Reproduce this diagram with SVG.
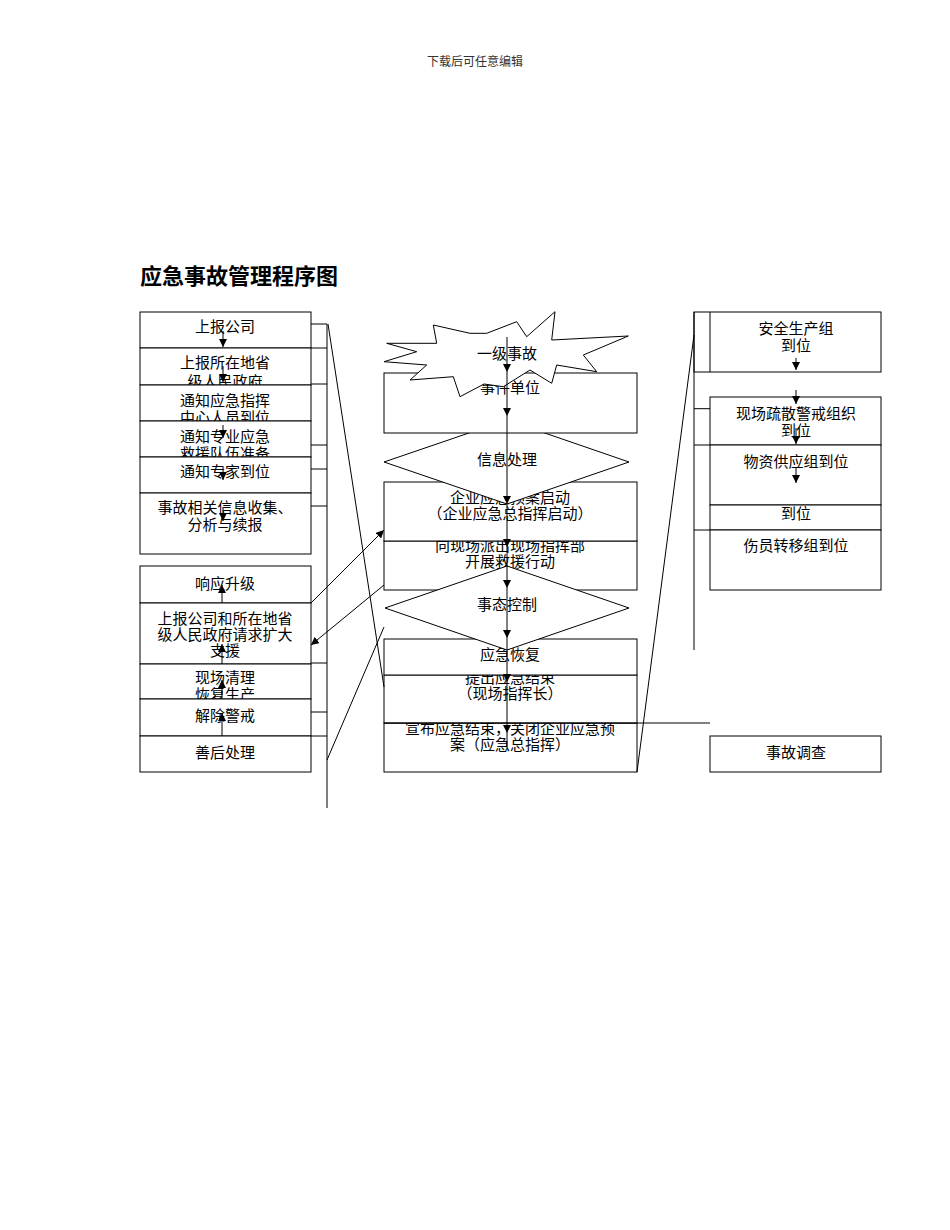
<svg xmlns="http://www.w3.org/2000/svg" width="950" height="1230" viewBox="0 0 950 1230">
<style>
.b{fill:#fff;stroke:#000;stroke-width:1}
.l{fill:none;stroke:#000;stroke-width:1}
.t{font-family:"Noto Sans CJK SC","Liberation Sans",sans-serif;font-size:15px;fill:#000;text-anchor:middle}
.a{fill:none;stroke:#000;stroke-width:1;marker-end:url(#ah)}
</style>
<defs>
<marker id="ah" viewBox="0 0 10 10" refX="10" refY="5" markerWidth="8" markerHeight="8" markerUnits="userSpaceOnUse" orient="auto"><path d="M0,0 L10,5 L0,10 z" fill="#000"/></marker>
</defs>
<rect width="950" height="1230" fill="#fff"/>
<text x="475" y="66" style="font-family:'Noto Sans CJK SC',sans-serif;font-size:12px;fill:#333;text-anchor:middle">下载后可任意编辑</text>
<text x="140" y="284" style="font-family:'Noto Sans CJK SC',sans-serif;font-size:22px;font-weight:bold;fill:#000">应急事故管理程序图</text>

<!-- left column upper -->
<g id="n-l1"><rect class="b" x="140" y="312" width="171" height="36"/><text class="t" x="225" y="331.5">上报公司</text></g>
<g id="n-l2"><rect class="b" x="140" y="348" width="171" height="37"/><text class="t" x="225" y="367.5">上报所在地省</text><text class="t" x="225" y="387">级人民政府</text></g>
<g id="n-l3"><rect class="b" x="140" y="385" width="171" height="36"/><text class="t" x="225" y="405.5">通知应急指挥</text><text class="t" x="225" y="423">中心人员到位</text></g>
<g id="n-l4"><rect class="b" x="140" y="421" width="171" height="36"/><text class="t" x="225" y="441.5">通知专业应急</text><text class="t" x="225" y="459">救援队伍准备</text></g>
<g id="n-l5"><rect class="b" x="140" y="457" width="171" height="36"/><text class="t" x="225" y="476.5">通知专家到位</text></g>
<g id="n-l6"><rect class="b" x="140" y="493" width="171" height="61"/><text class="t" x="225" y="512.5">事故相关信息收集、</text><text class="t" x="225" y="529.5">分析与续报</text></g>

<!-- left column lower -->
<g id="n-l7"><rect class="b" x="140" y="566" width="171" height="37"/><text class="t" x="225" y="588.5">响应升级</text></g>
<g id="n-l8"><rect class="b" x="140" y="603" width="171" height="61"/><text class="t" x="225" y="623.5">上报公司和所在地省</text><text class="t" x="225" y="639.5">级人民政府请求扩大</text><text class="t" x="225" y="655.5">支援</text></g>
<g id="n-l9"><rect class="b" x="140" y="664" width="171" height="35"/><text class="t" x="225" y="682.5">现场清理</text><text class="t" x="225" y="700">恢复生产</text></g>
<g id="n-l10"><rect class="b" x="140" y="699" width="171" height="37"/><text class="t" x="225" y="720.5">解除警戒</text></g>
<g id="n-l11"><rect class="b" x="140" y="736" width="171" height="36"/><text class="t" x="225" y="757.5">善后处理</text></g>

<!-- center column (drawn bottom-up for overlaps) -->
<g id="n-c9"><rect class="b" x="384" y="723" width="253" height="49"/><text class="t" x="510" y="733.5">宣布应急结束，关闭企业应急预</text><text class="t" x="510" y="749.5">案（应急总指挥）</text></g>
<g id="n-c8"><rect class="b" x="384" y="675" width="253" height="48"/><text class="t" x="510" y="682.5">提出应急结束</text><text class="t" x="510" y="698.5">（现场指挥长）</text></g>
<g id="n-c7"><rect class="b" x="384" y="639" width="253" height="36"/><text class="t" x="510" y="659.5">应急恢复</text></g>
<g id="n-c5"><rect class="b" x="384" y="541" width="253" height="49"/><text class="t" x="510" y="550.5">向现场派出现场指挥部</text><text class="t" x="510" y="566.5">开展救援行动</text></g>
<g id="n-c6"><polygon class="b" points="507,566 629,608 507,650 385,608"/><text class="t" x="507" y="609.5">事态控制</text></g>
<g id="n-c4"><rect class="b" x="384" y="482" width="253" height="59"/><text class="t" x="510" y="502.5">企业应急预案启动</text><text class="t" x="510" y="518.5">（企业应急总指挥启动）</text></g>
<g id="n-c3"><polygon class="b" points="507,420 629,462 507,504 384,462"/><text class="t" x="507" y="464.5">信息处理</text></g>
<g id="n-c2"><rect class="b" x="384" y="373" width="253" height="60"/><text class="t" x="510" y="392.5">事件单位</text></g>
<g id="n-c1"><polygon class="b" points="555,311.7 551.7,340 628.3,336 583.3,355 596.7,371.7 556.7,365 551.7,383.3 530,370 503.3,386.7 484,384 460,396.7 453.3,376.7 410,380 426.7,365 384,361.7 416.7,351.7 386.7,343.3 436.7,343.3 433.3,325 470,333.3 486.7,333.3 516.7,321.7 526.7,336.7"/><text class="t" x="507" y="358.5">一级事故</text></g>

<!-- right column -->
<g id="n-r1"><rect class="b" x="694" y="312" width="187" height="60"/><line class="l" x1="710" y1="312" x2="710" y2="372"/><text class="t" x="796" y="333.5">安全生产组</text><text class="t" x="796" y="350.5">到位</text></g>
<g id="n-r2"><rect class="b" x="710" y="397" width="171" height="48"/><text class="t" x="796" y="418.5">现场疏散警戒组织</text><text class="t" x="796" y="435.5">到位</text></g>
<g id="n-r3"><rect class="b" x="710" y="445" width="171" height="60"/><text class="t" x="796" y="466.5">物资供应组到位</text></g>
<g id="n-r4"><rect class="b" x="710" y="505" width="171" height="25"/><text class="t" x="796" y="518.5">到位</text></g>
<g id="n-r5"><rect class="b" x="710" y="530" width="171" height="60"/><text class="t" x="796" y="550.5">伤员转移组到位</text></g>
<g id="n-r6"><rect class="b" x="710" y="736" width="171" height="36"/><text class="t" x="796" y="757.5">事故调查</text></g>

<g id="connectors">
<!-- left bracket -->
<line class="l" x1="327" y1="324" x2="327" y2="808"/>
<path class="l" d="M311,324H327M311,348H327M311,384H327M311,445H327M311,469H327M311,506H327M311,663H327M311,712H327M311,736H327"/>
<!-- left down arrows -->
<line class="a" x1="223" y1="331" x2="223" y2="347"/>
<line class="a" x1="223" y1="366" x2="223" y2="382"/>
<line class="a" x1="223" y1="425" x2="223" y2="438"/>
<line class="a" x1="223" y1="466" x2="223" y2="480"/>
<line class="a" x1="223" y1="507" x2="223" y2="521"/>
<!-- left up arrows -->
<line class="a" x1="222" y1="603" x2="222" y2="585"/>
<line class="a" x1="222" y1="664" x2="222" y2="644"/>
<line class="a" x1="222" y1="699" x2="222" y2="680"/>
<line class="a" x1="222" y1="736" x2="222" y2="713"/>
<!-- cross links left-center -->
<line class="a" x1="311" y1="603" x2="384" y2="530"/>
<line class="a" x1="384" y1="585" x2="311" y2="645"/>
<line class="l" x1="384" y1="627" x2="327" y2="760"/>
<line class="l" x1="328" y1="324" x2="384" y2="687"/>
<!-- center spine -->
<line class="a" x1="507" y1="337" x2="507" y2="372"/>
<line class="a" x1="507" y1="372" x2="507" y2="416"/>
<line class="a" x1="507" y1="416" x2="507" y2="504"/>
<line class="a" x1="507" y1="504" x2="507" y2="547"/>
<line class="a" x1="507" y1="547" x2="507" y2="588"/>
<line class="a" x1="507" y1="588" x2="507" y2="638"/>
<line class="a" x1="507" y1="638" x2="507" y2="682"/>
<line class="a" x1="507" y1="682" x2="507" y2="733"/>
<line class="l" x1="507" y1="733" x2="507" y2="750"/>
<!-- horizontal to right -->
<line class="l" x1="384" y1="723" x2="710" y2="723"/>
<!-- right bracket -->
<line class="l" x1="694" y1="312" x2="694" y2="650"/>
<path class="l" d="M694,408.7H710M694,445H710M694,530H710"/>
<line class="l" x1="694" y1="335" x2="637" y2="772"/>
<!-- right arrows -->
<line class="a" x1="796" y1="358" x2="796" y2="370"/>
<line class="a" x1="796" y1="390" x2="796" y2="404"/>
<line class="a" x1="796" y1="428" x2="796" y2="444"/>
<line class="a" x1="796" y1="467" x2="796" y2="483"/>
</g>
</svg>
